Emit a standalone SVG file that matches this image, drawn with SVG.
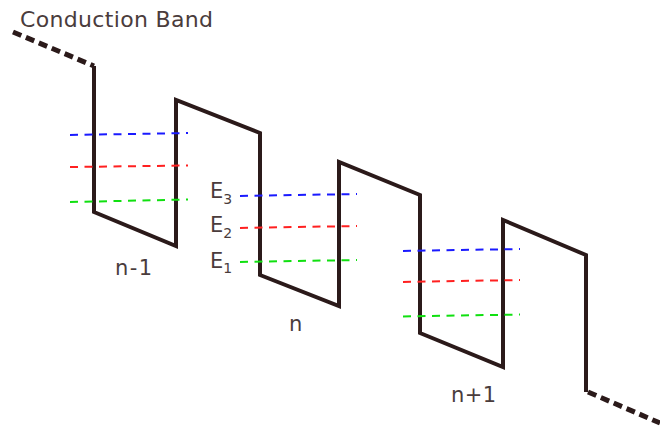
<svg xmlns="http://www.w3.org/2000/svg" width="660" height="433" viewBox="0 0 660 433">
<style>
.band{fill:none;stroke:#2b1a1a;stroke-width:4;stroke-linejoin:miter}
.bdash{fill:none;stroke:#2b1a1a;stroke-width:5;stroke-dasharray:9 5}
.lvl{stroke-width:2;stroke-dasharray:8 6.5;fill:none}
.e3{stroke:#1a1aff}.e2{stroke:#ff2020}.e1{stroke:#10e010}
text{font-family:"DejaVu Sans",Verdana,sans-serif;fill:#4a3c3c}
</style>
<rect width="660" height="433" fill="#fff"/>
<g id="connectors">
<path class="bdash" d="M13,32 L94,66"/>
<path class="band" d="M94,66 L94,212 L176,246 L176,100 L260,133 L260,275 L339,306 L339,162 L420,195 L420,333 L503,367 L503,220 L586,255 L586,392"/>
<path class="bdash" d="M588,392 L660,423"/>
</g>
<g id="well-n-1">
<line class="lvl e3" x1="70" y1="135" x2="188" y2="133"/>
<line class="lvl e2" x1="70" y1="167" x2="188" y2="165.5"/>
<line class="lvl e1" x1="70" y1="202" x2="188" y2="199.5"/>
<text x="115" y="275" font-size="21" textLength="37" lengthAdjust="spacing">n-1</text>
</g>
<g id="well-n">
<line class="lvl e3" x1="240" y1="196" x2="357" y2="194"/>
<line class="lvl e2" x1="240" y1="228" x2="357" y2="226"/>
<line class="lvl e1" x1="240" y1="262" x2="357" y2="260"/>
<text x="289" y="331" font-size="21">n</text>
<text x="210" y="198" font-size="21">E<tspan font-size="14" dy="6">3</tspan></text>
<text x="210" y="232" font-size="21">E<tspan font-size="14" dy="6">2</tspan></text>
<text x="210" y="268" font-size="21">E<tspan font-size="14" dy="5">1</tspan></text>
</g>
<g id="well-n+1">
<line class="lvl e3" x1="403" y1="251" x2="520" y2="249"/>
<line class="lvl e2" x1="403" y1="282" x2="520" y2="280"/>
<line class="lvl e1" x1="403" y1="316.5" x2="520" y2="314.5"/>
<text x="451" y="402" font-size="21" textLength="45" lengthAdjust="spacing">n+1</text>
</g>
<g id="label">
<text x="20" y="27" font-size="22" textLength="193" lengthAdjust="spacing">Conduction Band</text>
</g>
</svg>
